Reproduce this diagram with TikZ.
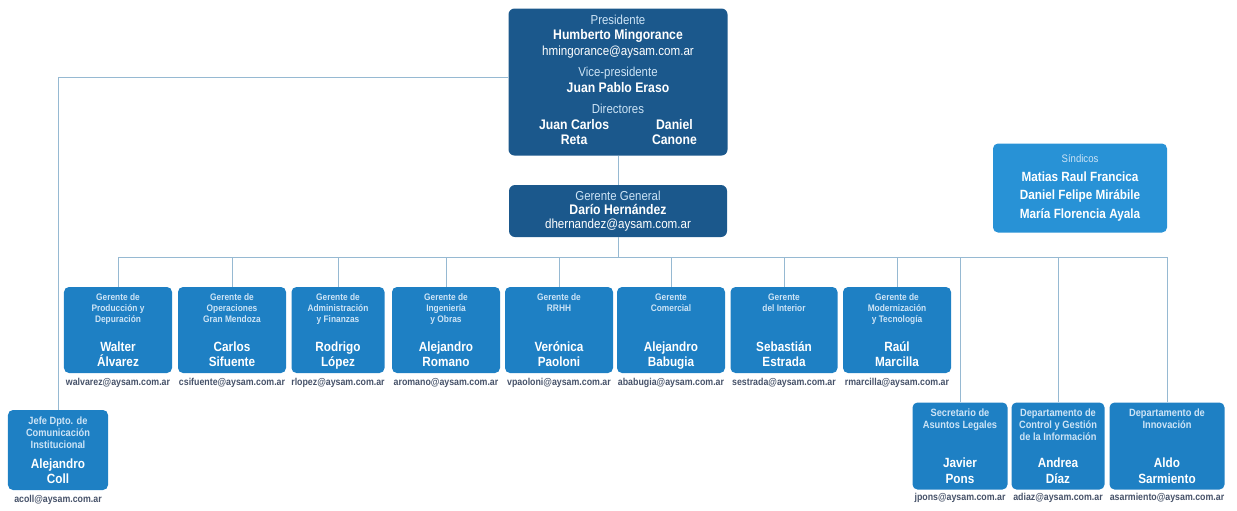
\documentclass[tikz,border=0pt]{standalone}
\usepackage{fontspec}
\setmainfont{Liberation Sans}[FakeStretch=0.88]
\usetikzlibrary{positioning}

\definecolor{azuloscuro}{RGB}{27,88,140}
\definecolor{azul}{RGB}{30,128,196}
\definecolor{azulclaro}{RGB}{40,146,214}
\definecolor{titulo}{RGB}{205,228,246}
\definecolor{linea}{RGB}{150,185,210}
\definecolor{correo}{RGB}{70,82,105}

\newcommand\titf{\fontsize{7.4}{8.8}\selectfont\color{titulo}}
\newcommand\namf{\fontsize{7.9}{8.8}\selectfont\bfseries\color{white}}
\newcommand\mailf{\fontsize{7.5}{8.8}\selectfont\color{white}}
\newcommand\cargotit{\fontsize{5.4}{6.2}}
\newcommand\cargo[4][17.2mm]{%
  \begin{minipage}[t][\dimexpr#1-2.6mm\relax]{\dimexpr#2-1mm\relax}\centering
  {\cargotit\selectfont\bfseries\color{titulo}#3\par}\vfill
  {\fontsize{7.6}{8.6}\selectfont\bfseries #4\rule[-1.6pt]{0pt}{1pt}\par}\kern-1.6pt
  \end{minipage}}

\begin{document}
\begin{tikzpicture}[x=0.2mm,y=-0.2mm,
    darkbox/.style={fill=azuloscuro, rounded corners=1.2mm, text=white, align=center},
    box/.style={fill=azul, rounded corners=1mm, text=white, inner xsep=0.5mm, inner ysep=1.3mm},
    bigtitle/.style={execute at begin node={\renewcommand\cargotit{\fontsize{6}{6.9}}}},
    mail/.style={font=\fontsize{5.7}{6.3}\selectfont\bfseries, text=correo, inner sep=0.3mm},
    link/.style={draw=linea, line width=0.5pt}]
  \useasboundingbox (0,0) rectangle (1237,510);

  \node[darkbox, minimum width=43.8mm, minimum height=29.4mm, font=\fontsize{7.4}{8.8}\selectfont] (pres) at (618,82)
    {{\titf Presidente}\\ {\namf Humberto Mingorance}\\ {\mailf hmingorance@aysam.com.ar}\\[3.4pt]
     {\titf Vice-presidente}\\ {\namf Juan Pablo Eraso}\\[3.4pt]
     {\titf Directores}\\
     {\namf\begin{tabular}[t]{@{}c@{\hspace{8.6mm}}c@{}}Juan Carlos & Daniel\\ Reta & Canone\end{tabular}}};
  \node[darkbox, minimum width=43.6mm, minimum height=10.4mm, inner sep=0.5mm, font=\fontsize{7.4}{7.9}\selectfont] (gg) at (618,211)
    {{\titf Gerente General}\\ {\namf Darío Hernández}\\ {\mailf dhernandez@aysam.com.ar}};
  \node[box, fill=azulclaro, minimum width=34.8mm, minimum height=17.8mm, align=center, font=\fontsize{7.4}{10.6}\selectfont] (sind) at (1080,188)
    {{\titf\fontsize{6.2}{7}\selectfont Síndicos}\\ {\namf\fontsize{7.6}{8}\selectfont Matias Raul Francica}\\
     {\namf\fontsize{7.6}{8}\selectfont Daniel Felipe Mirábile}\\ {\namf\fontsize{7.6}{8}\selectfont María Florencia Ayala}};

  \node[box] (w1) at (118,330) {\cargo{21.6mm}{Gerente de\\Producción y\\Depuración}{Walter\\Álvarez}};
  \node[box] (w2) at (232,330) {\cargo{21.6mm}{Gerente de\\Operaciones\\Gran Mendoza}{Carlos\\Sifuente}};
  \node[box] (w3) at (338,330) {\cargo{18.6mm}{Gerente de\\Administración\\y Finanzas}{Rodrigo\\López}};
  \node[box] (w4) at (446,330) {\cargo{21.6mm}{Gerente de\\Ingeniería\\y Obras}{Alejandro\\Romano}};
  \node[box] (w5) at (559,330) {\cargo{21.6mm}{Gerente de\\RRHH}{Verónica\\Paoloni}};
  \node[box] (w6) at (671,330) {\cargo{21.6mm}{Gerente\\Comercial}{Alejandro\\Babugia}};
  \node[box] (w7) at (784,330) {\cargo{21.4mm}{Gerente\\del Interior}{Sebastián\\Estrada}};
  \node[box] (w8) at (897,330) {\cargo{21.6mm}{Gerente de\\Modernización\\y Tecnología}{Raúl\\Marcilla}};

  \node[mail, below=0.7mm of w1] (m1) {walvarez@aysam.com.ar};
  \node[mail, below=0.7mm of w2] (m2) {csifuente@aysam.com.ar};
  \node[mail, below=0.7mm of w3] (m3) {rlopez@aysam.com.ar};
  \node[mail, below=0.7mm of w4] (m4) {aromano@aysam.com.ar};
  \node[mail, below=0.7mm of w5] (m5) {vpaoloni@aysam.com.ar};
  \node[mail, below=0.7mm of w6] (m6) {ababugia@aysam.com.ar};
  \node[mail, below=0.7mm of w7] (m7) {sestrada@aysam.com.ar};
  \node[mail, below=0.7mm of w8] (m8) {rmarcilla@aysam.com.ar};

  \node[box, bigtitle] (coll) at (58,450) {\cargo[16mm]{20mm}{Jefe Dpto. de\\Comunicación\\Institucional}{Alejandro\\Coll}};
  \node[mail, below=0.7mm of coll] (mc) {acoll@aysam.com.ar};

  \node[box, bigtitle] (pons) at (960,446) {\cargo[17.4mm]{19mm}{Secretario de\\Asuntos Legales}{Javier\\Pons}};
  \node[box, bigtitle] (diaz) at (1058,446) {\cargo[17.4mm]{18.6mm}{Departamento de\\Control y Gestión\\de la Información}{Andrea\\Díaz}};
  \node[box, bigtitle] (sarm) at (1167,446) {\cargo[17.4mm]{23mm}{Departamento de\\Innovación}{Aldo\\Sarmiento}};
  \node[mail, below=0.4mm of pons] (mp) {jpons@aysam.com.ar};
  \node[mail, below=0.4mm of diaz] (md) {adiaz@aysam.com.ar};
  \node[mail, below=0.4mm of sarm] (ms) {asarmiento@aysam.com.ar};

  \coordinate (bus) at (618,257);
  \draw[link] (pres) -- (gg);
  \draw[link] (gg) -- (bus);
  \foreach \n in {w1,w2,w3,w4,w5,w6,w7,w8,pons,diaz,sarm}
    \draw[link] (\n.north) |- (bus);
  \draw[link] ([yshift=1mm]pres.west) -| (coll.north);
\end{tikzpicture}
\end{document}
